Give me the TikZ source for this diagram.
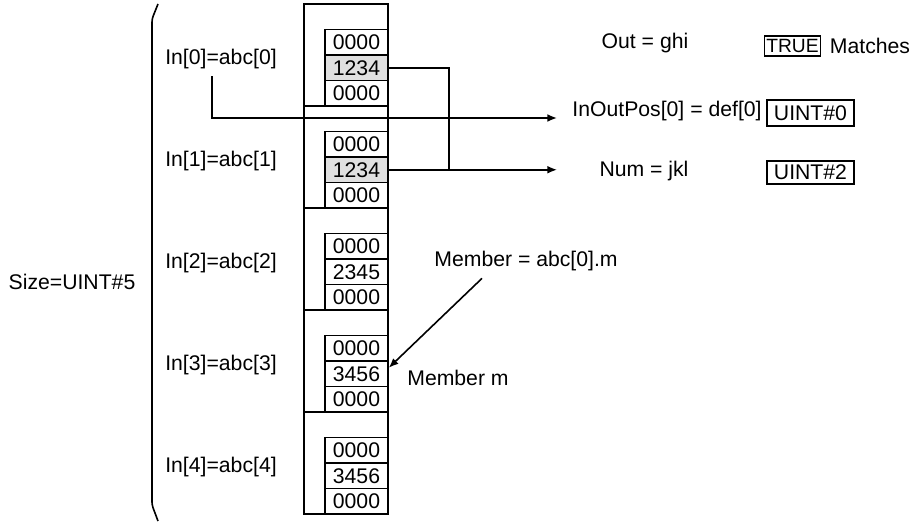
\documentclass[tikz,border=0pt]{standalone}
\usepackage{fontspec}
\setmainfont{Liberation Sans}
\usetikzlibrary{arrows.meta}

\begin{document}
\begin{tikzpicture}[x=0.5pt,y=-0.5pt,line width=0.8pt,
    font=\fontsize{10.6}{12}\selectfont,
    elem/.style={draw,minimum width=42pt,minimum height=51pt,inner sep=0pt},
    cell/.style={draw,fill=white,minimum width=31.5pt,minimum height=12.75pt,inner sep=0pt},
    hot/.style={cell,fill=black!12},
    valbox/.style={draw,inner sep=0pt,minimum width=43.5pt,minimum height=11.5pt},
    ptr/.style={-{Latex[length=4.8pt,width=3.9pt]}}]
        \useasboundingbox (0,0) rectangle (921,523);
        \def\ex{346}    % element box center
        \def\cx{356.5}  % member cell center
        % Array elements In[0]..In[4]
        \node[elem] (e0) at (\ex,55) {};
        \node[elem] (e1) at (\ex,157) {};
        \node[elem] (e2) at (\ex,259) {};
        \node[elem] (e3) at (\ex,361) {};
        \node[elem] (e4) at (\ex,463) {};
        % Members of each element
        \node[cell] (b00) at (\cx,42.25) {0000};
        \node[hot]  (b01) at (\cx,67.75) {1234};
        \node[cell] (b02) at (\cx,93.25) {0000};
        \node[cell] (b10) at (\cx,144.25) {0000};
        \node[hot]  (b11) at (\cx,169.75) {1234};
        \node[cell] (b12) at (\cx,195.25) {0000};
        \node[cell] (b20) at (\cx,246.25) {0000};
        \node[cell] (b21) at (\cx,271.75) {2345};
        \node[cell] (b22) at (\cx,297.25) {0000};
        \node[cell] (b30) at (\cx,348.25) {0000};
        \node[cell] (b31) at (\cx,373.75) {3456};
        \node[cell] (b32) at (\cx,399.25) {0000};
        \node[cell] (b40) at (\cx,450.25) {0000};
        \node[cell] (b41) at (\cx,475.75) {3456};
        \node[cell] (b42) at (\cx,501.25) {0000};
        % Element labels and bracket
        \node (in0) at (221,59) {In[0]=abc[0]};
        \node (in1) at (221,161) {In[1]=abc[1]};
        \node (in2) at (221,263) {In[2]=abc[2]};
        \node (in3) at (221,365) {In[3]=abc[3]};
        \node (in4) at (221,467) {In[4]=abc[4]};
        \draw[rounded corners=1.5pt] (158,4) -- (152,19) -- (152,505) -- (158,521);
        \node (size) at (72,282) {Size=UINT\#5};
        % Results
        \node (out) at (645,43) {Out = ghi};
        \node[draw,inner sep=1pt,minimum width=28pt,minimum height=10pt,
              font=\fontsize{9.6}{11}\selectfont] (res) at (792.5,46) {TRUE};
        \node (match) at (870,46) {Matches};
        \node (pos) at (667,111) {InOutPos[0] = def[0]};
        \node[valbox,minimum height=13pt] (posval) at (810.5,113) {UINT\#0};
        \node (num) at (644,171) {Num = jkl};
        \node[valbox] (numval) at (810.5,172.5) {UINT\#2};
        % Connectors
        \coordinate (posin) at (557,118);
        \coordinate (numin) at (557,169.75);
        \coordinate (jn) at (449,169.75);
        \draw[ptr] ([xshift=-4.5pt]in0.south) |- (posin);
        \draw (b01.east) -| (jn);
        \draw[ptr] (b11.east) -- (numin);
        % Member m
        \node (mem) at (526,261) {Member = abc[0].m};
        \node (memm) at (458,378) {Member m};
        \draw[ptr] ([xshift=-22pt]mem.south) -- ([yshift=3pt]b31.east);
\end{tikzpicture}
\end{document}
